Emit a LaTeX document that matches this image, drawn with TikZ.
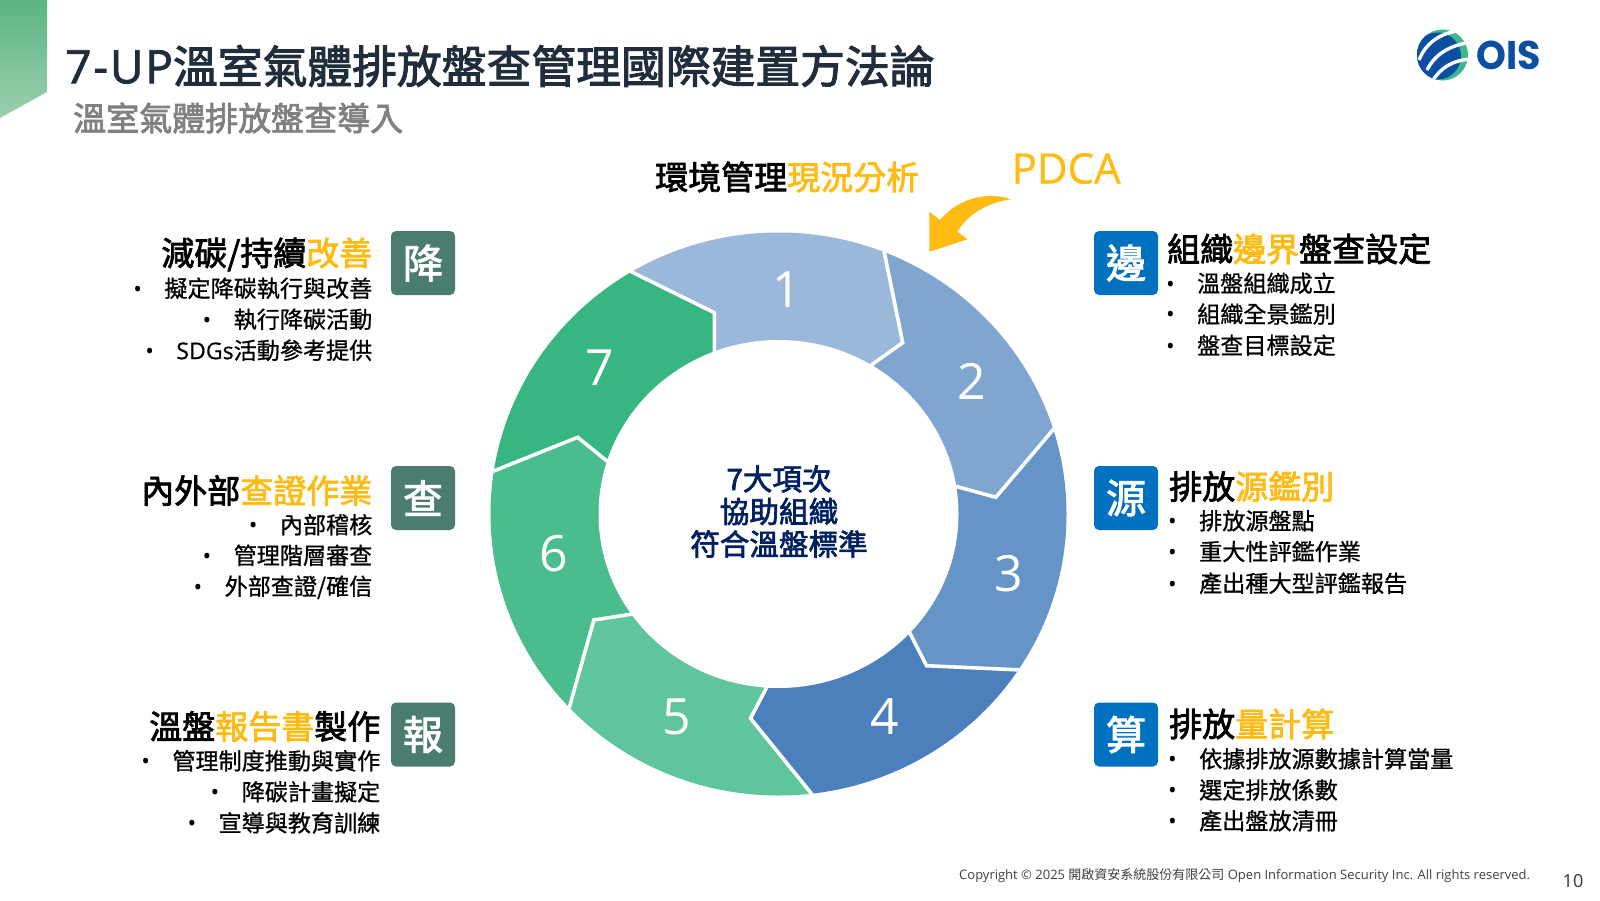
\documentclass[tikz,border=0pt]{standalone}
\usepackage{fontspec}
\setmainfont{Noto Sans CJK TC}
\newfontfamily\medf[FakeBold=2.3]{Noto Sans CJK TC}
\newfontfamily\itemf[FakeBold=0.8]{Noto Sans CJK TC}
\newfontfamily\osf{Open Sans}
\newfontfamily\osfm[FakeBold=1.8,LetterSpace=4]{Open Sans}
\newfontfamily\osfi[FakeBold=0.6]{Open Sans}
\newfontfamily\logof{Poppins}
\usetikzlibrary{calc}
\definecolor{oisy}{HTML}{FFBB12}
\definecolor{titlec}{HTML}{1F2D3D}
\definecolor{subc}{HTML}{808080}
\definecolor{navy}{HTML}{002060}
\definecolor{bluebox}{HTML}{0070C0}
\definecolor{greenbox}{HTML}{4A7C6F}
\definecolor{segA}{HTML}{9BB8DB}
\definecolor{segB}{HTML}{80A5D0}
\definecolor{segC}{HTML}{6594C6}
\definecolor{segD}{HTML}{4B80BD}
\definecolor{segE}{HTML}{5FC59C}
\definecolor{segF}{HTML}{4ABC8E}
\definecolor{segG}{HTML}{38B682}
\definecolor{logob}{HTML}{0B4EA2}
\definecolor{logog}{HTML}{3DB88B}
\definecolor{cornerA}{HTML}{5BB585}
\definecolor{cornerB}{HTML}{9CCFAF}
\tikzset{
  head/.style={anchor=west,inner sep=0pt,font=\medf\fontsize{33}{36}\selectfont},
  headr/.style={head,anchor=east},
  item/.style={anchor=west,inner sep=0pt,font=\itemf\fontsize{23.1}{26}\selectfont},
  itemr/.style={item,anchor=east},
  tile/.style={minimum width=64pt,minimum height=64pt,inner sep=0pt,rounded corners=5pt,text=white,font=\medf\fontsize{40}{44}\selectfont},
  num/.style={text=white,inner sep=0pt,font=\osf\fontsize{50}{54}\selectfont},
}
\newcommand{\bu}{\makebox[31pt][l]{\osf •}}
\begin{document}
\begin{tikzpicture}[x=1pt,y=-1pt]
\useasboundingbox (0,0) rectangle (1600,900);
\fill[white] (0,0) rectangle (1600,900);
% corner
\shade[top color=cornerA,bottom color=cornerB] (0,0) -- (47,0) -- (47,92) -- (0,118) -- cycle;
\node[anchor=west,inner sep=0pt,text=titlec,font=\medf\fontsize{44.8}{48}\selectfont] (title) at (65,66) {{\osfm\fontsize{46}{48}\selectfont 7-UP}溫室氣體排放盤查管理國際建置方法論};
\node[anchor=west,inner sep=0pt,text=subc,font=\medf\fontsize{33}{36}\selectfont] (subtitle) at (73,118) {溫室氣體排放盤查導入};
% ring
\begin{scope}[xshift=-1.5pt]
\coordinate (c) at (780,514);
\coordinate (o1) at (885.8,252.3); \coordinate (t1) at (904.2,342.7); \coordinate (i1) at (874.2,364);
\coordinate (o2) at (1055,429.3); \coordinate (t2) at (997.3,497.3); \coordinate (i2) at (958.8,486.7);
\coordinate (o3) at (1023,670); \coordinate (t3) at (928,665.7); \coordinate (i3) at (911.5,633.3);
\coordinate (o4) at (812.7,793.3); \coordinate (t4) at (752,718.3); \coordinate (i4) at (767.7,688.3);
\coordinate (o5) at (571,706.7); \coordinate (t5) at (595.4,620); \coordinate (i5) at (633.8,614);
\coordinate (o6) at (493.5,471.7); \coordinate (t6) at (579.2,437.3); \coordinate (i6) at (608,460.7);
\coordinate (o7) at (632.7,271.7); \coordinate (t7) at (715.8,312.7); \coordinate (i7) at (715.8,350.7);
\end{scope}
\begin{scope}
\clip (c) ellipse [x radius=288pt,y radius=281.5pt];
\foreach \a/\b/\col in {7/1/segA,1/2/segB,2/3/segC,3/4/segD,4/5/segE,5/6/segF,6/7/segG}{
  \fill[\col] (c) -- (i\a) -- (t\a) -- (o\a) -- ($(c)!1.6!(o\a)$) -- ($(c)!1.6!(o\b)$) -- (o\b) -- (t\b) -- (i\b) -- cycle;
}
\foreach \a in {1,...,7}{
  \draw[white,line width=3.6pt,line join=miter] (c) -- (i\a) -- (t\a) -- (o\a) -- ($(c)!1.2!(o\a)$);
}
\fill[white] (c) ellipse [x radius=180pt,y radius=174pt];
\end{scope}
\node[num] (n1) at (787,290) {1};
\node[num] (n2) at (972,381.6) {2};
\node[num] (n3) at (1009,573.5) {3};
\node[num] (n4) at (884.7,717) {4};
\node[num] (n5) at (676.5,717) {5};
\node[num] (n6) at (553.5,554) {6};
\node[num] (n7) at (600,368) {7};
\node[align=center,inner sep=0pt,text=navy,font=\medf\fontsize{29.6}{32.6}\selectfont] (center) at (779,511.5) {7大項次\\協助組織\\符合溫盤標準};
% top label
\node[head] (env) at (655,177) {環境管理{\color{oisy}現況分析}};
\node[anchor=west,inner sep=0pt,text=oisy,font=\osfi\fontsize{42}{44}\selectfont] (pdca) at (1011.5,168.5) {PDCA};
\fill[oisy] (1011,199.3) .. controls (990,192) and (960,196) .. (940,220) -- (929.3,211.7) -- (929.3,251.7) -- (967.7,239.3) -- (957.3,231.7) .. controls (968,215) and (985,203) .. cycle;
% right column
\node[tile,fill=bluebox] (b1) at (1126,263) {邊};
\node[tile,fill=bluebox] (b2) at (1126,498) {源};
\node[tile,fill=bluebox] (b3) at (1126,734.5) {算};
\node[head] (r1) at (1167,249) {組織{\color{oisy}邊界}盤查設定};
\node[item] (r11) at (1166,283.3) {\bu 溫盤組織成立};
\node[item] (r12) at (1166,314) {\bu 組織全景鑑別};
\node[item] (r13) at (1166,345.3) {\bu 盤查目標設定};
\node[head] (r2) at (1169,486.5) {排放{\color{oisy}源鑑別}};
\node[item] (r21) at (1168,520.8) {\bu 排放源盤點};
\node[item] (r22) at (1168,551.5) {\bu 重大性評鑑作業};
\node[item] (r23) at (1168,583.3) {\bu 產出種大型評鑑報告};
\node[head] (r3) at (1169,724) {排放{\color{oisy}量計算}};
\node[item] (r31) at (1168,758.8) {\bu 依據排放源數據計算當量};
\node[item] (r32) at (1168,789.8) {\bu 選定排放係數};
\node[item] (r33) at (1168,820.8) {\bu 產出盤放清冊};
% left column
\node[tile,fill=greenbox] (g1) at (423,263) {降};
\node[tile,fill=greenbox] (g2) at (423,498) {查};
\node[tile,fill=greenbox] (g3) at (423,734.5) {報};
\node[headr] (l1) at (372.5,254.5) {減碳/持續{\color{oisy}改善}};
\node[itemr] (l11) at (372.5,288.3) {\bu 擬定降碳執行與改善};
\node[itemr] (l12) at (372.5,319.3) {\bu 執行降碳活動};
\node[itemr] (l13) at (372.5,350.3) {\bu {\osfi SDGs}活動參考提供};
\node[headr] (l2) at (372.5,490.5) {內外部{\color{oisy}查證作業}};
\node[itemr] (l21) at (372.5,524.8) {\bu 內部稽核};
\node[itemr] (l22) at (372.5,555.3) {\bu 管理階層審查};
\node[itemr] (l23) at (372.5,587.3) {\bu 外部查證/確信};
\node[headr] (l3) at (380.5,726.5) {溫盤{\color{oisy}報告書}製作};
\node[itemr] (l31) at (380.5,760.8) {\bu 管理制度推動與實作};
\node[itemr] (l32) at (380.5,791.8) {\bu 降碳計畫擬定};
\node[itemr] (l33) at (380.5,822.8) {\bu 宣導與教育訓練};
% logo
\begin{scope}
\clip (1442.5,55) circle (25.5pt);
\fill[logog] (1442.5,55) circle (26pt);
\fill[logob] (1437.5,56) circle (23.5pt);
\fill[logob] (1417,34) rectangle (1426,82);
\draw[white,line width=3.4pt] (1419,60) .. controls (1425,44) and (1440,33) .. (1458,31);
\draw[white,line width=3.4pt] (1427,70) .. controls (1435,54) and (1450,45) .. (1472,42);
\draw[white,line width=3.4pt] (1433,80) .. controls (1441,68) and (1452,60) .. (1472,59);
\end{scope}
\node[anchor=west,inner sep=0pt,text=logob,font=\logof\fontsize{40}{44}\selectfont\bfseries,xscale=0.95] (ois) at (1476,55) {OIS};
% footer
\node[anchor=west,inner sep=0pt,text=black!75,font=\fontsize{13}{15}\selectfont] (copy) at (959,876) {{\osf Copyright © 2025 }開啟資安系統股份有限公司{\osf{} Open Information Security Inc. All rights reserved.}};
\node[inner sep=0pt,text=black!80,font=\osf\fontsize{18}{20}\selectfont] (page) at (1573,881) {10};
\end{tikzpicture}
\end{document}
